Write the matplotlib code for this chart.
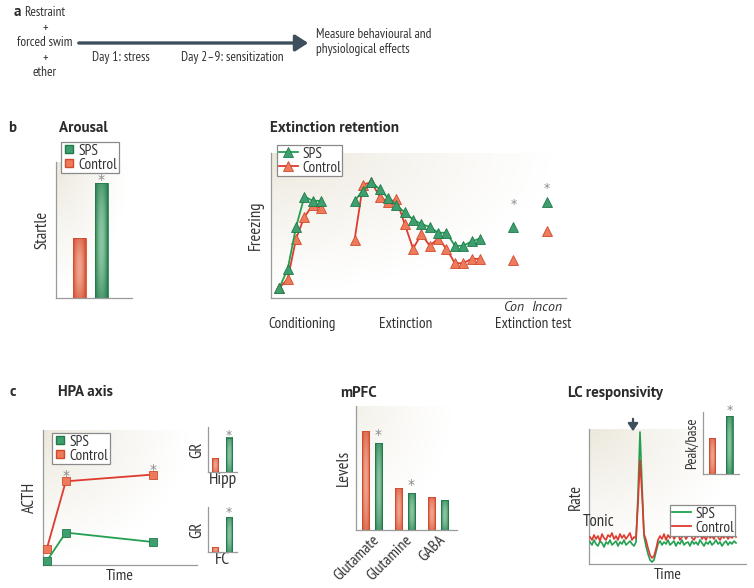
import numpy as np
import matplotlib
matplotlib.use("Agg")
import matplotlib.pyplot as plt
from matplotlib.patches import FancyArrowPatch
from matplotlib.lines import Line2D
from matplotlib.colors import to_rgb
import logging
logging.getLogger("matplotlib.font_manager").setLevel(logging.ERROR)

plt.rcParams['font.family'] = ['PT Sans Narrow', 'PT Sans', 'Lato', 'DejaVu Sans']
TITLE_FAM = ['PT Sans', 'Lato', 'DejaVu Sans']

W, H = 754, 588

# ---------------- data ----------------
groups = ["SPS", "Control"]
startle_vals = [115, 60]            # SPS, Control

cond_x = [0, 1, 2, 3, 4, 5]
cond_sps = [7, 20, 49, 70, 67, 67]
cond_ctrl = [7, 13, 41, 56, 64, 62]
ext_x = list(range(9, 25))
ext_sps = [67, 74, 80, 75, 69, 64, 59, 54, 51, 49, 45, 45, 36, 36, 39, 41]
ext_ctrl = [40, 78, 80, 70, 66, 68, 51, 34, 44, 36, 41, 34, 24, 24, 27, 27]
test_x = [28, 32]
test_labels = ["Con", "Incon"]
test_sps = [49, 66]
test_ctrl = [26, 46]
test_star = [60, 71]

acth_t = [0, 1, 5.6]
acth_sps = [3, 24, 17]
acth_ctrl = [12, 62, 67]

gr_hipp = [14, 34]   # Control, SPS
gr_fc = [5, 35]

mpfc_cats = ["Glutamate", "Glutamine", "GABA"]
mpfc_ctrl = [99, 42, 33]
mpfc_sps = [87, 37, 30]

lc_ctrl = [27, 24, 29, 25, 28, 23, 30, 26, 24, 29, 27, 31, 25, 28, 24, 30, 26, 29, 25, 28,
           31, 24, 27, 26, 60, 104, 70, 30, 24, 16, 9, 6, 8, 15, 24, 28, 25, 30, 24, 29,
           26, 31, 25, 28, 30, 24, 27, 29, 25, 28, 31, 26, 24, 28, 27, 30, 25, 28, 24, 29,
           26, 28, 25, 30, 27, 24, 28, 26, 29, 25, 28, 26, 29, 27]
lc_sps = [22, 19, 24, 20, 18, 23, 21, 17, 22, 20, 24, 19, 21, 23, 18, 22, 20, 24, 19, 21,
          23, 20, 18, 22, 70, 132, 80, 28, 18, 10, 4, 2, 4, 12, 20, 23, 19, 22, 20, 24,
          19, 21, 23, 18, 22, 20, 24, 19, 21, 22, 18, 23, 20, 22, 19, 24, 21, 18, 22, 20,
          23, 19, 21, 24, 20, 22, 18, 21, 23, 19, 22, 20, 23, 21]
peak_base = [36, 58]  # Control, SPS

# ---------------- style ----------------
GREEN_D = "#1f7a48"
GREEN_L = "#9fd3b4"
RED_D = "#d24a2c"
RED_L = "#f5b4a0"
LINE_G = "#22a04f"
LINE_R = "#de3a2e"
MK_G = "#3f9e70"
MK_R = "#ee7a5c"
SPINE = "#9a9a9a"
TXT = "#333333"
ARROW = "#3d4f5c"
STAR = "#8a8a8a"
FS = 11      # annotation labels
FS_Y = 12    # axis labels
FS_L = 11    # legends
FS_A = 9.6   # panel a text
FS_T = 10.8  # titles

fig = plt.figure(figsize=(W / 100, H / 100), dpi=100)
fig.patch.set_facecolor("white")


def fx(x):
    return x / W


def fy(y):
    return 1 - y / H


def T(x, y, s, **kw):
    kw.setdefault("color", TXT)
    kw.setdefault("va", "center")
    kw.setdefault("fontsize", FS)
    fig.text(fx(x), fy(y), s, **kw)


def title(x, y, s, ha="left"):
    T(x, y, s, ha=ha, fontweight="bold", fontsize=FS_T, family=TITLE_FAM, color="#2b2b2b")


def axes_px(x0, y0, x1, y1):
    ax = fig.add_axes([fx(x0), fy(y1), (x1 - x0) / W, (y1 - y0) / H])
    for s in ["top", "right"]:
        ax.spines[s].set_visible(False)
    for s in ["left", "bottom"]:
        ax.spines[s].set_color(SPINE)
        ax.spines[s].set_linewidth(0.9)
    ax.set_xticks([])
    ax.set_yticks([])
    ax.patch.set_alpha(0)
    return ax


def background(ax, strength=1.0):
    n = 120
    xx, yy = np.meshgrid(np.linspace(0, 1, n), np.linspace(0, 1, n))
    d = np.sqrt(xx ** 2 + (1 - yy) ** 2) / np.sqrt(2)
    t = np.clip(d * 1.5, 0, 1) ** 0.8
    c0 = np.array(to_rgb("#ebe7db"))
    c0 = 1 - (1 - c0) * strength
    c1 = np.array([1.0, 1.0, 1.0])
    img = c0[None, None, :] * (1 - t[..., None]) + c1[None, None, :] * t[..., None]
    ax.imshow(img, extent=(0, 1, 0, 1), transform=ax.transAxes, origin="lower",
              aspect="auto", zorder=0, interpolation="bilinear")


def grad_bars(ax, bars, dark, light):
    cd = np.array(to_rgb(dark))
    cl = np.array(to_rgb(light))
    u = np.linspace(-1, 1, 40)
    v = np.linspace(-1, 1, 60)
    U, V = np.meshgrid(u, v)
    f = (1 - U ** 2) * (0.45 + 0.55 * (1 - np.abs(V) ** 2))
    f = np.clip(f, 0, 1) * 0.85
    img = cd[None, None, :] * (1 - f[..., None]) + cl[None, None, :] * f[..., None]
    for r in bars:
        x, y, w, h = r.get_x(), r.get_y(), r.get_width(), r.get_height()
        ax.imshow(img, extent=(x, x + w, y, y + h), aspect="auto", zorder=2,
                  origin="lower", interpolation="bilinear")
        r.set_facecolor("none")
        r.set_edgecolor(dark)
        r.set_linewidth(0.6)
        r.set_zorder(3)


def star(ax, x, y, fs=10):
    ax.text(x, y, "*", ha="center", va="bottom", color=STAR, fontsize=fs,
            family="DejaVu Sans", zorder=12)


def legend_px(ax, handles, labels, x, y, fs=FS_L, **kw):
    leg = ax.legend(handles, labels, loc="upper left", bbox_to_anchor=(fx(x), fy(y)),
                    bbox_transform=fig.transFigure, fancybox=False, framealpha=1,
                    edgecolor="#8a8a8a", fontsize=fs, borderpad=0.1, labelspacing=0.0,
                    handletextpad=0.25, borderaxespad=0, labelcolor=TXT, **kw)
    leg.get_frame().set_linewidth(0.9)
    leg.set_zorder(10)
    return leg


# ---------------- panel a ----------------
title(17, 12, "a", ha="center")
for yy, s in zip([13, 28, 43, 58, 73], ["Restraint", "+", "forced swim", "+", "ether"]):
    T(45, yy, s, ha="center", fontsize=FS_A)
fig.add_artist(FancyArrowPatch((fx(76), fy(43)), (fx(311), fy(43)), transform=fig.transFigure,
                               arrowstyle="-|>,head_length=0.7,head_width=0.45",
                               mutation_scale=11, lw=2.4, color=ARROW))
T(92, 58, "Day 1: stress", ha="left", fontsize=FS_A)
T(181, 58, "Day 2\u20139: sensitization", ha="left", fontsize=FS_A)
T(316, 34, "Measure behavioural and", ha="left", fontsize=FS_A)
T(316, 50, "physiological effects", ha="left", fontsize=FS_A)

# ---------------- panel b: arousal ----------------
title(12, 128, "b", ha="center")
title(59, 128, "Arousal")
ax = axes_px(56, 162, 132, 298)
background(ax)
b = ax.bar([0, 1], [startle_vals[1], startle_vals[0]], width=0.55)
grad_bars(ax, [b[0]], RED_D, RED_L)
grad_bars(ax, [b[1]], GREEN_D, GREEN_L)
star(ax, 1, startle_vals[0] - 4)
ax.set_xlim(-1.07, 2.39)
ax.set_ylim(0, 136)
ax.set_ylabel("Startle", fontsize=FS_Y, color=TXT, labelpad=4)
hs = [Line2D([], [], ls="none", marker="s", ms=6, mfc=MK_G, mec=GREEN_D),
      Line2D([], [], ls="none", marker="s", ms=6, mfc=MK_R, mec=RED_D)]
legend_px(ax, hs, groups, 61, 142, handlelength=0.8)

# ---------------- panel b: extinction ----------------
title(270, 128, "Extinction retention")
ax = axes_px(271, 153, 566, 298)
background(ax)
kw_g = dict(color=LINE_G, marker="^", ms=6.5, mfc=MK_G, mec=GREEN_D, mew=0.6, lw=1.3)
kw_r = dict(color=LINE_R, marker="^", ms=6.5, mfc=MK_R, mec=RED_D, mew=0.6, lw=1.3)
ax.plot(cond_x, cond_ctrl, zorder=3, **kw_r)
ax.plot(cond_x, cond_sps, zorder=4, **kw_g)
ax.plot(ext_x, ext_ctrl, zorder=3, **kw_r)
ax.plot(ext_x, ext_sps, zorder=4, **kw_g)
ax.plot(test_x, test_sps, ls="none", zorder=4, **{k: v for k, v in kw_g.items() if k != "lw"})
ax.plot(test_x, test_ctrl, ls="none", zorder=3, **{k: v for k, v in kw_r.items() if k != "lw"})
for x, v in zip(test_x, test_star):
    star(ax, x, v, fs=9)
ax.set_xlim(-1, 34.3)
ax.set_ylim(0, 100)
ax.set_ylabel("Freezing", fontsize=FS_Y, color=TXT, labelpad=5)
ax.set_xticks(test_x)
ax.set_xticklabels(test_labels, fontstyle="italic", fontsize=10,
                   family=['PT Sans', 'Lato'], color=TXT)
ax.tick_params(axis="x", length=0, pad=2)
T(302, 324, "Conditioning", ha="center")
T(406, 324, "Extinction", ha="center")
T(533, 324, "Extinction test", ha="center")
hl = [Line2D([], [], **kw_g), Line2D([], [], **kw_r)]
legend_px(ax, hl, groups, 277, 145, handlelength=1.3)

# ---------------- panel c: HPA ----------------
title(13, 392, "c", ha="center")
title(58, 392, "HPA axis")
ax = axes_px(43, 430, 197, 565)
background(ax)
kw_gs = dict(color=LINE_G, marker="s", ms=6, mfc=MK_G, mec=GREEN_D, mew=0.6, lw=1.3)
kw_rs = dict(color=LINE_R, marker="s", ms=6, mfc=MK_R, mec=RED_D, mew=0.6, lw=1.3)
ax.plot(acth_t, acth_ctrl, zorder=3, clip_on=False, **kw_rs)
ax.plot(acth_t, acth_sps, zorder=4, clip_on=False, **kw_gs)
for x, v in zip(acth_t[1:], acth_ctrl[1:]):
    star(ax, x, v - 1.5)
ax.set_xlim(-0.2, 7.9)
ax.set_ylim(0, 100)
ax.set_ylabel("ACTH", fontsize=FS_Y, color=TXT, labelpad=4)
ax.set_xlabel("Time", fontsize=FS_Y - 0.5, color=TXT, labelpad=3)
hs = [Line2D([], [], ls="none", marker="s", ms=6, mfc=MK_G, mec=GREEN_D),
      Line2D([], [], ls="none", marker="s", ms=6, mfc=MK_R, mec=RED_D)]
legend_px(ax, hs, groups, 52, 433, handlelength=0.8)

for (y0, y1, vals, lab, so) in [(427, 472, gr_hipp, "Hipp", -4), (507, 552, gr_fc, "FC", -2)]:
    ax = axes_px(208, y0, 237, y1)
    b = ax.bar([0, 1], vals, width=0.43)
    grad_bars(ax, [b[0]], RED_D, RED_L)
    grad_bars(ax, [b[1]], GREEN_D, GREEN_L)
    star(ax, 1, vals[1] + so, fs=9)
    ax.set_xlim(-0.5, 1.57)
    ax.set_ylim(0, 45)
    ax.set_ylabel("GR", fontsize=FS_Y, color=TXT, labelpad=2)
    ax.set_xlabel(lab, fontsize=12.5, color=TXT, labelpad=0)

# ---------------- panel c: mPFC ----------------
title(340, 393, "mPFC")
ax = axes_px(356, 406, 457, 530)
background(ax, strength=0.6)
xs = np.arange(len(mpfc_cats))
br = ax.bar(xs - 0.2, mpfc_ctrl, width=0.22)
bg_ = ax.bar(xs + 0.2, mpfc_sps, width=0.22)
grad_bars(ax, br, RED_D, RED_L)
grad_bars(ax, bg_, GREEN_D, GREEN_L)
for i in [0, 1]:
    star(ax, xs[i] + 0.2, mpfc_sps[i] + 1)
ax.set_xlim(-0.48, 2.58)
ax.set_ylim(0, 124)
ax.set_ylabel("Levels", fontsize=FS_Y, color=TXT, labelpad=3)
ax.set_xticks(xs)
ax.set_xticklabels(mpfc_cats, rotation=45, ha="right", va="top", rotation_mode="anchor",
                   fontsize=11.5, color=TXT)
ax.tick_params(axis="x", length=0, pad=2)

# ---------------- panel c: LC ----------------
title(568, 393, "LC responsivity")
ax = axes_px(589, 429, 746, 564)
background(ax)
lx = np.arange(len(lc_sps))
ax.plot(lx, lc_sps, color=LINE_G, lw=1.2, zorder=3)
ax.plot(lx, lc_ctrl, color=LINE_R, lw=1.2, zorder=4)
ax.set_xlim(-0.5, 78)
ax.set_ylim(0, 135)
ax.set_ylabel("Rate", fontsize=FS_Y, color=TXT, labelpad=4)
ax.set_xlabel("Time", fontsize=FS_Y - 0.5, color=TXT, labelpad=3)
T(599, 522, "Tonic", ha="center", fontsize=12)
fig.add_artist(FancyArrowPatch((fx(633), fy(416)), (fx(633), fy(434)), transform=fig.transFigure,
                               arrowstyle="-|>,head_length=0.45,head_width=0.3",
                               mutation_scale=10, lw=1.6, color=ARROW))
hl = [Line2D([], [], color=LINE_G, lw=1.3), Line2D([], [], color=LINE_R, lw=1.3)]
legend_px(ax, hl, groups, 670, 505, handlelength=1.3)

ax = axes_px(703, 412, 739, 474)
ax.patch.set_alpha(1)
ax.patch.set_facecolor("white")
b = ax.bar([0, 1], peak_base, width=0.37)
grad_bars(ax, [b[0]], RED_D, RED_L)
grad_bars(ax, [b[1]], GREEN_D, GREEN_L)
star(ax, 1, peak_base[1] - 1, fs=9)
ax.set_xlim(-0.51, 1.54)
ax.set_ylim(0, 62)
ax.set_ylabel("Peak/base", fontsize=10.5, color=TXT, labelpad=3)

fig.savefig("out.png", dpi=100)
